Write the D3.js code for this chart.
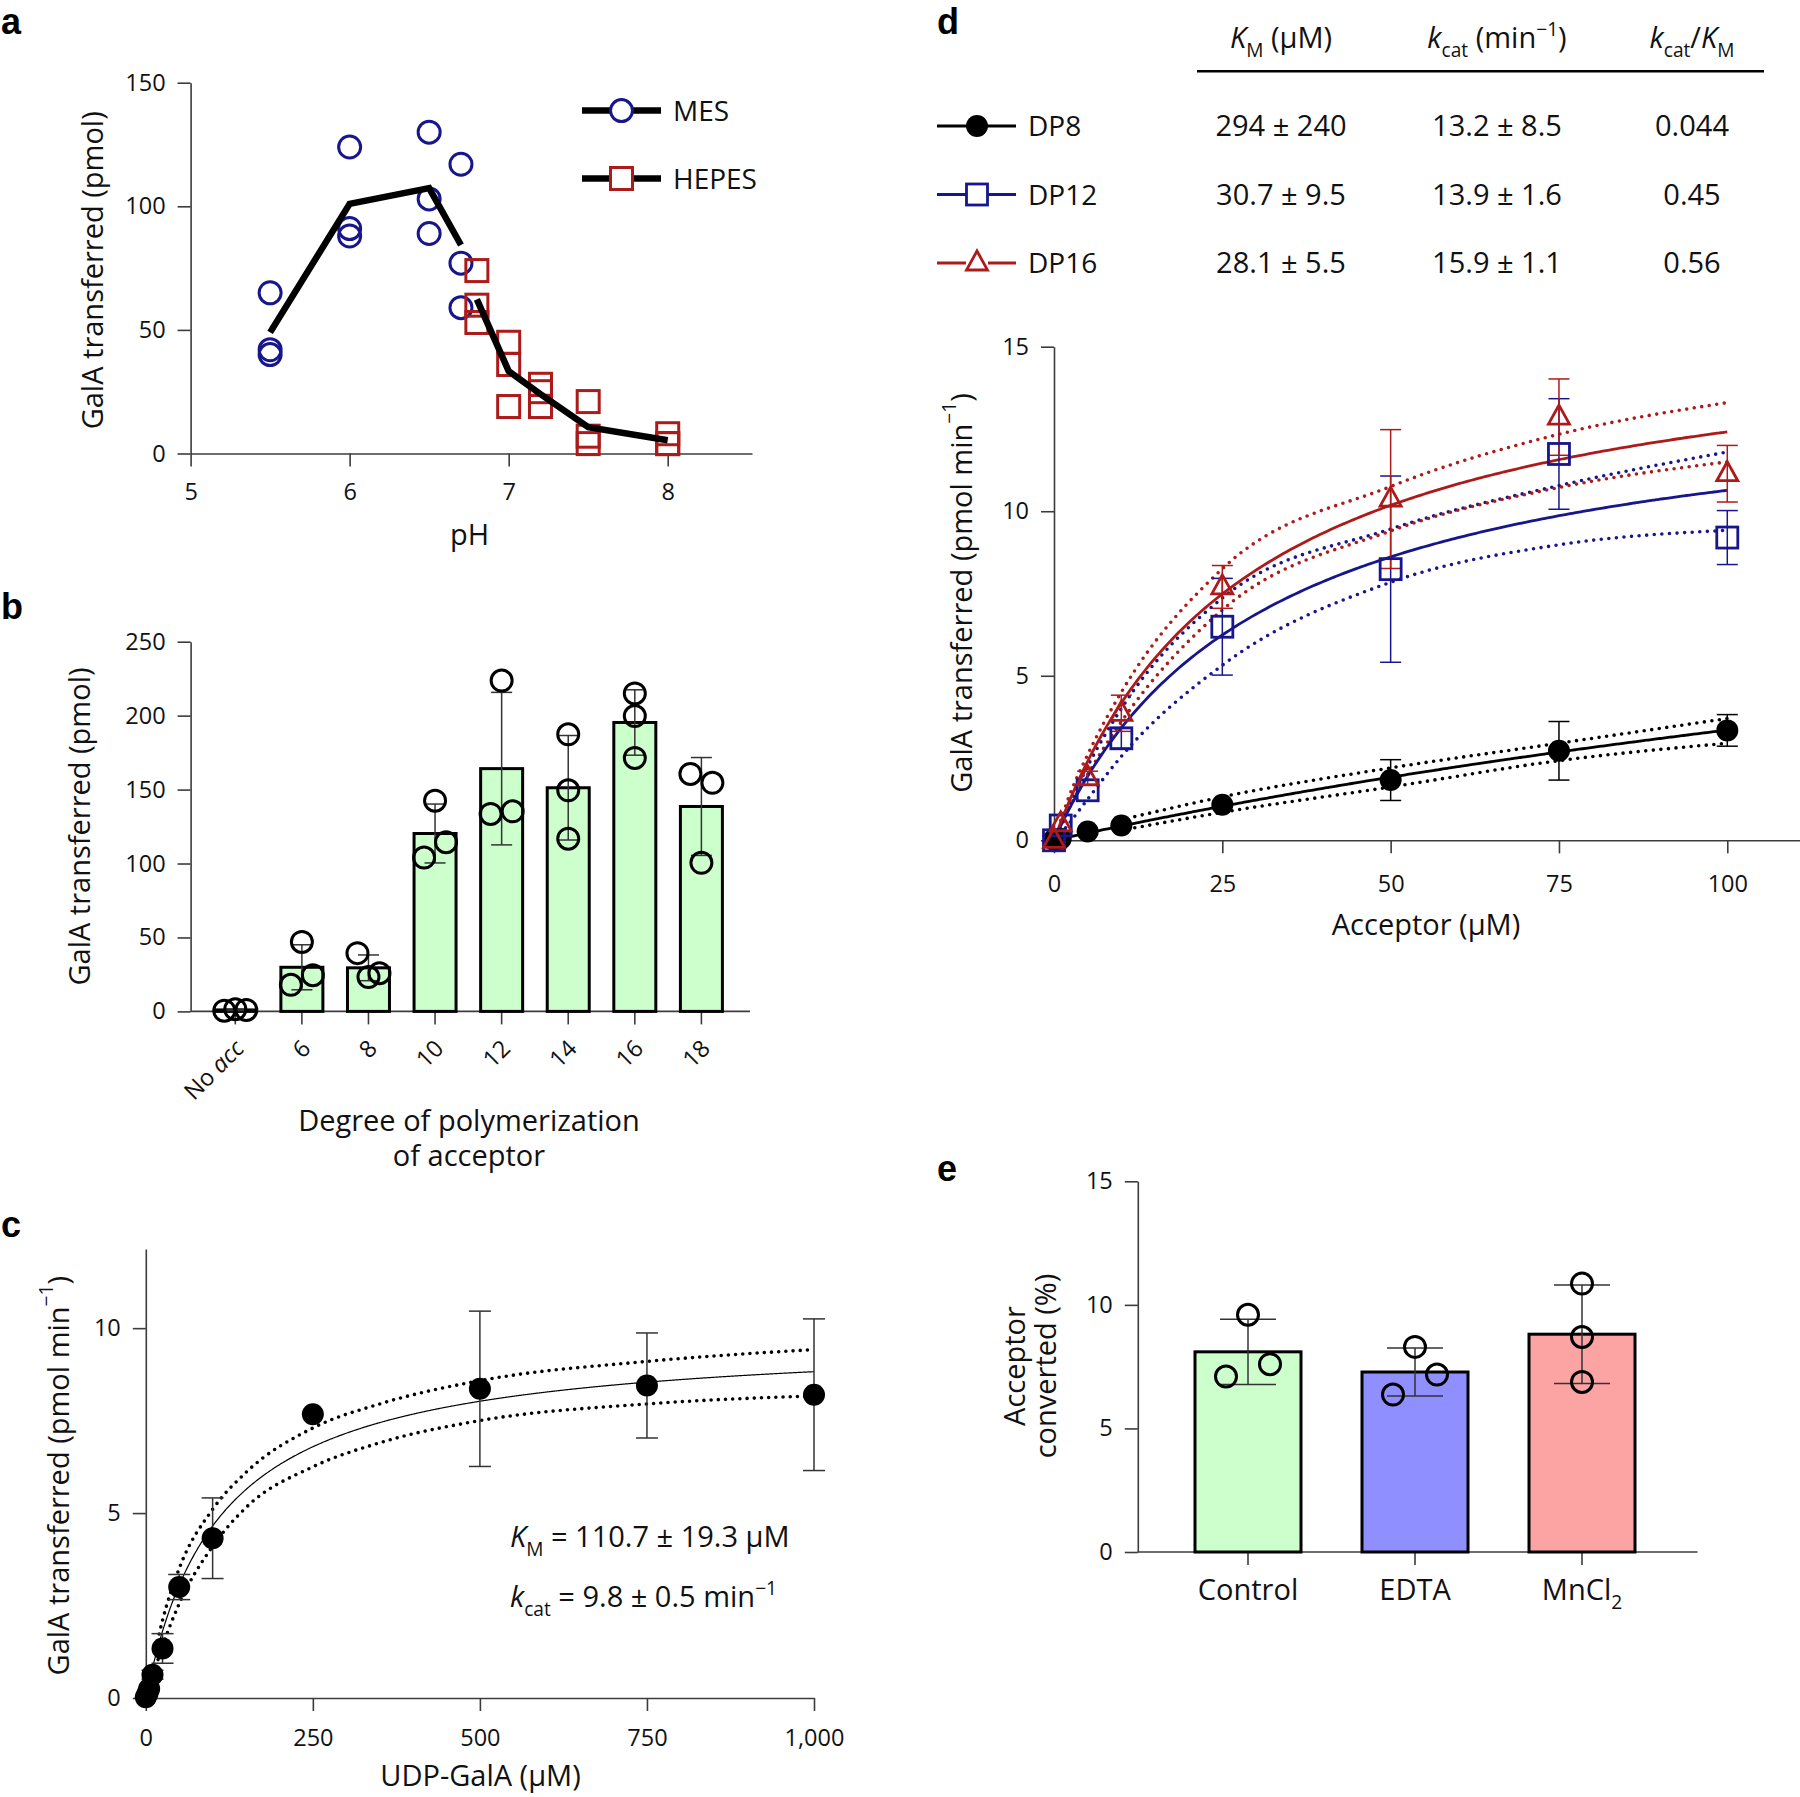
<!DOCTYPE html>
<html><head><meta charset="utf-8">
<script src="https://cdn.jsdelivr.net/npm/d3@7"></script>
<style>
body{margin:0;background:#fff;}
svg{display:block;font-family:"Open Sans",sans-serif;}
</style></head><body>
<svg id="fig" width="1800" height="1797"></svg>
<script>
// ---------------- Panel a: pH profile ----------------
const mesPH = [5.5, 6, 6.5, 6.7];
const mesReps = [[65, 42, 40], [124, 91, 88], [130, 103, 89], [117, 77, 59]];
const hepesPH = [6.8, 7, 7.2, 7.5, 8];
const hepesReps = [[74, 60, 53], [45, 36, 19], [28, 25, 19], [21, 7, 4], [8, 4, 4]];
const phTicks = [5, 6, 7, 8];
const aYTicks = [0, 50, 100, 150];

// ---------------- Panel b: acceptor DP ----------------
const dpCats = ["No acc", "6", "8", "10", "12", "14", "16", "18"];
const dpReps = [[0.5, 1.5, 1], [47, 18, 24.5], [39.4, 23.2, 25.8], [142.5, 104, 114.4],
                [223.7, 133.5, 135.3], [187.4, 149.5, 116.8], [215, 199.7, 171.4], [160.6, 154.6, 100.5]];
const bYTicks = [0, 50, 100, 150, 200, 250];

// ---------------- Panel c: UDP-GalA kinetics ----------------
const udpConc = [0, 2.5, 5, 10, 25, 50, 100, 250, 500, 750, 1000];
const udpRate = [0.02, 0.12, 0.25, 0.63, 1.34, 3.0, 4.32, 7.67, 8.36, 8.45, 8.2];
const udpSD   = [0, 0, 0, 0.12, 0.4, 0.34, 1.09, 0, 2.1, 1.42, 2.05];
const udpBandX = [15, 25, 50, 100, 150, 250, 350, 500, 750, 1000];
const udpBandUpper = [1.35, 2.1, 3.5, 5.1, 6.1, 7.3, 7.95, 8.58, 9.1, 9.42];
const udpBandLower = [0.85, 1.4, 2.55, 4.1, 5.15, 6.25, 6.9, 7.5, 7.95, 8.17];
const udpKm = 110.7, udpKmErr = 19.3, udpKcat = 9.8, udpKcatErr = 0.5;
const cXTicks = [0, 250, 500, 750, 1000];
const cYTicks = [0, 5, 10];

// ---------------- Panel d: acceptor kinetics ----------------
const dSeries = ["DP8", "DP12", "DP16"];
const kmVals = [294, 30.7, 28.1];
const kmErrs = [240, 9.5, 5.5];
const kcatVals = [13.2, 13.9, 15.9];
const kcatErrs = [8.5, 1.6, 1.1];
const effVals = [0.044, 0.45, 0.56];
const accConc = [0, 1, 5, 10, 25, 50, 75, 100];
const dp8Rate  = [0.02, 0.05, 0.27, 0.45, 1.08, 1.83, 2.72, 3.34];
const dp8SD    = [0, 0, 0, 0, 0, 0.62, 0.89, 0.48];
const dp12Rate = [0, 0.45, 1.52, 3.1, 6.49, 8.24, 11.74, 9.2];
const dp12SD   = [0, 0, 0, 0.3, 1.47, 2.83, 1.68, 0.82];
const dp16Rate = [0, 0.5, 1.9, 3.86, 7.7, 10.37, 12.86, 11.14];
const dp16SD   = [0, 0, 0.2, 0.55, 0.65, 2.11, 1.16, 0.86];
const dBandX   = [1, 2, 5, 10, 25, 50, 75, 100];
const dp12Upper = [0.5, 0.95, 2.25, 4.0, 7.36, 9.46, 10.78, 11.8];
const dp12Lower = [0.2, 0.45, 1.25, 2.55, 5.32, 7.84, 8.98, 9.42];
const dp16Upper = [0.6, 1.2, 2.6, 4.5, 8.25, 10.75, 12.34, 13.3];
const dp16Lower = [0.35, 0.85, 2.0, 3.6, 7.0, 9.4, 10.72, 11.5];
const dp8BandX  = [12, 25, 50, 75, 100];
const dp8Upper  = [0.72, 1.32, 2.2, 2.95, 3.7];
const dp8Lower  = [0.38, 0.85, 1.62, 2.42, 2.95];
const dXTicks = [0, 25, 50, 75, 100];
const dYTicks = [0, 5, 10, 15];

// ---------------- Panel e: metal dependence ----------------
const eCats = ["Control", "EDTA", "MnCl2"];
const eReps = [[9.6, 7.1, 7.6], [8.3, 6.37, 7.18], [10.86, 8.7, 6.88]];
const eYTicks = [0, 5, 10, 15];

// =====================================================
const svg = d3.select("#fig");
const AX = "#3c3c3c", TXT = "#111";
const NAVY = "#17168c", RED = "#ad1a1a";
const FS_TICK = 23.5, FS_TITLE = 29;

function finish(g){
  g.attr("font-family", null).attr("font-size", null).attr("fill", null);
  g.select(".domain").attr("stroke", AX).attr("stroke-width", 1.6);
  g.selectAll(".tick line").attr("stroke", AX).attr("stroke-width", 1.6);
  g.selectAll(".tick text").attr("fill", TXT).attr("font-size", FS_TICK);
}
function yAxis(scale, x, ticks){
  const g = svg.append("g").attr("transform", `translate(${x},0)`)
    .call(d3.axisLeft(scale).tickValues(ticks).tickSize(13).tickSizeOuter(0).tickPadding(12).tickFormat(d3.format("d")));
  finish(g); return g;
}
function xAxis(scale, y, ticks, fmt, pad){
  const g = svg.append("g").attr("transform", `translate(0,${y})`)
    .call(d3.axisBottom(scale).tickValues(ticks).tickSize(13).tickSizeOuter(0).tickPadding(pad).tickFormat(fmt));
  finish(g); return g;
}
function rich(t, parts, fs){
  let shift = 0;
  parts.forEach(p => {
    const ts = t.append("tspan").text(p.t);
    const target = p.sub ? fs*0.3 : p.sup ? -fs*0.4 : 0;
    const dy = target - shift; shift = target;
    if (dy !== 0) ts.attr("dy", dy);
    if (p.sub || p.sup) ts.attr("font-size", fs*0.66);
    if (p.it) ts.attr("font-style", "italic");
  });
  return t;
}
function title(x, y, parts, rot, fs){
  fs = fs || FS_TITLE;
  const t = svg.append("text").attr("font-size", fs).attr("fill", TXT).attr("text-anchor", "middle");
  if (rot) t.attr("transform", `translate(${x},${y}) rotate(-90)`).attr("dominant-baseline", "central");
  else t.attr("x", x).attr("y", y);
  return rich(t, typeof parts === "string" ? [{t: parts}] : parts, fs);
}
function letter(x, y, s){
  svg.append("text").attr("x", x).attr("y", y).text(s)
    .attr("font-family", "Liberation Sans, Arial, sans-serif").attr("font-weight", "bold")
    .attr("font-size", 36).attr("fill", "#000");
}
function dodge(vals, yScale, thr, d){
  const n = vals.length, px = vals.map(v => yScale(v));
  const parent = d3.range(n);
  const find = i => parent[i] === i ? i : (parent[i] = find(parent[i]));
  for (let i = 0; i < n; i++) for (let j = i+1; j < n; j++)
    if (Math.abs(px[i]-px[j]) < thr) parent[find(i)] = find(j);
  const off = new Array(n).fill(0);
  for (const [, idx] of d3.group(d3.range(n), find)) {
    const m = idx.length;
    idx.forEach((k, t) => { off[k] = m === 1 ? 0 : (t - (m-1)/2) * (2*d/(m-1)); });
  }
  return off;
}
function errBar(g, x, y0, y1, hw, color, w){
  g.append("line").attr("x1", x).attr("x2", x).attr("y1", y0).attr("y2", y1).attr("stroke", color).attr("stroke-width", w);
  [y0, y1].forEach(yy => g.append("line").attr("x1", x-hw).attr("x2", x+hw).attr("y1", yy).attr("y2", yy)
    .attr("stroke", color).attr("stroke-width", w));
}
const mm = (V, K) => s => V*s/(K+s);

// ================= Panel a =================
letter(1, 34, "a");
const ax = d3.scaleLinear().domain([5, 8.53]).range([190.6, 752]);
const ay = d3.scaleLinear().domain([0, 150]).range([453.5, 82.7]);
xAxis(ax, 453.5, phTicks, d3.format("d"), 17);
yAxis(ay, 190.6, aYTicks);
const aG = svg.append("g");
function sq(g, x, y, s, c){
  g.append("rect").attr("x", x-s/2).attr("y", y-s/2).attr("width", s).attr("height", s)
    .attr("fill", "none").attr("stroke", c).attr("stroke-width", 3);
}
mesPH.forEach((p, i) => mesReps[i].forEach(v =>
  aG.append("circle").attr("cx", ax(p)).attr("cy", ay(v)).attr("r", 11).attr("fill", "none").attr("stroke", NAVY).attr("stroke-width", 3)));
hepesPH.forEach((p, i) => hepesReps[i].forEach(v => sq(aG, ax(p), ay(v), 22, RED)));
const aLine = d3.line().x(d => ax(d[0])).y(d => ay(d[1]));
[[mesPH, mesReps], [hepesPH, hepesReps]].forEach(([ph, reps]) => {
  aG.append("path").attr("d", aLine(ph.map((p, i) => [p, d3.mean(reps[i])])))
    .attr("fill", "none").attr("stroke", "#000").attr("stroke-width", 6.5);
});
// legend
[["MES", 110.6], ["HEPES", 178.5]].forEach(([name, ly], k) => {
  aG.append("line").attr("x1", 582).attr("x2", 661).attr("y1", ly).attr("y2", ly).attr("stroke", "#000").attr("stroke-width", 6.5);
  if (k === 0) aG.append("circle").attr("cx", 621.5).attr("cy", ly).attr("r", 11).attr("fill", "#fff").attr("stroke", NAVY).attr("stroke-width", 3);
  else { aG.append("rect").attr("x", 621.5-11).attr("y", ly-11).attr("width", 22).attr("height", 22).attr("fill", "#fff"); sq(aG, 621.5, ly, 22, RED); }
  aG.append("text").attr("x", 673).attr("y", ly+10).attr("font-size", 28).attr("fill", TXT).text(name);
});
title(469.5, 545, "pH");
title(90.8, 270.3, "GalA transferred (pmol)", true);

// ================= Panel b =================
letter(1, 619, "b");
const by = d3.scaleLinear().domain([0, 250]).range([1011.4, 641.7]);
const bx = d3.scalePoint().domain(dpCats).range([235.3, 701.4]);
yAxis(by, 190.6, bYTicks);
const bG = svg.append("g");
bG.append("line").attr("x1", 190.6).attr("x2", 750).attr("y1", by(0)).attr("y2", by(0)).attr("stroke", AX).attr("stroke-width", 1.6);
dpCats.forEach(c => bG.append("line").attr("x1", bx(c)).attr("x2", bx(c)).attr("y1", by(0)).attr("y2", by(0)+13).attr("stroke", AX).attr("stroke-width", 1.6));
dpCats.forEach((c, i) => {
  const m = d3.mean(dpReps[i]);
  bG.append("rect").attr("x", bx(c)-21).attr("width", 42).attr("y", by(m)).attr("height", by(0)-by(m))
    .attr("fill", "#ccffcc").attr("stroke", "#000").attr("stroke-width", 3);
});
dpCats.forEach((c, i) => {
  const m = d3.mean(dpReps[i]), sd = d3.deviation(dpReps[i]);
  errBar(bG, bx(c), by(m+sd), by(m-sd), 10.5, "#333", 1.5);
});
dpCats.forEach((c, i) => {
  const off = dodge(dpReps[i], by, 21, 11);
  dpReps[i].forEach((v, k) => bG.append("circle").attr("cx", bx(c)+off[k]).attr("cy", by(v)).attr("r", 10.5)
    .attr("fill", "none").attr("stroke", "#000").attr("stroke-width", 3));
});
dpCats.forEach(c => {
  const t = bG.append("text").attr("transform", `translate(${bx(c)+10},1050) rotate(-45)`)
    .attr("text-anchor", "end").attr("font-size", FS_TICK).attr("fill", TXT);
  if (c === "No acc") rich(t, [{t: "No "}, {t: "acc", it: true}], FS_TICK); else t.text(c);
});
{
  const t = svg.append("text").attr("font-size", FS_TITLE).attr("fill", TXT).attr("text-anchor", "middle");
  t.append("tspan").attr("x", 469).attr("y", 1131).text("Degree of polymerization");
  t.append("tspan").attr("x", 469).attr("dy", 35).text("of acceptor");
}
title(77.7, 826.5, "GalA transferred (pmol)", true);

// ================= Panel c =================
letter(1, 1237, "c");
const cx = d3.scaleLinear().domain([0, 1000]).range([145.8, 814]);
const cy = d3.scaleLinear().domain([0, 12.14]).range([1698, 1249]);
xAxis(cx, 1698, cXTicks, d3.format(","), 18);
yAxis(cy, 145.8, cYTicks);
const cG = svg.append("g");
const cLine = d3.line().x(d => cx(d[0])).y(d => cy(d[1])).curve(d3.curveMonotoneX);
[udpBandUpper, udpBandLower].forEach(b => cG.append("path").attr("d", cLine(udpBandX.map((x, i) => [x, b[i]])))
  .attr("fill", "none").attr("stroke", "#000").attr("stroke-width", 3.6).attr("stroke-linecap", "round").attr("stroke-dasharray", "0 7.2"));
const cFit = mm(udpKcat, udpKm);
cG.append("path").attr("d", cLine(d3.range(0, 1000.01, 2).map(s => [s, cFit(s)])))
  .attr("fill", "none").attr("stroke", "#000").attr("stroke-width", 1.2);
udpConc.forEach((s, i) => { if (udpSD[i] > 0) errBar(cG, cx(s), cy(udpRate[i]+udpSD[i]), cy(udpRate[i]-udpSD[i]), 11, "#333", 1.5); });
udpConc.forEach((s, i) => cG.append("circle").attr("cx", cx(s)).attr("cy", cy(udpRate[i])).attr("r", 11).attr("fill", "#000"));
{
  const t1 = svg.append("text").attr("x", 510).attr("y", 1547).attr("font-size", 29).attr("fill", TXT);
  rich(t1, [{t: "K", it: true}, {t: "M", sub: true}, {t: " = " + udpKm + " ± " + udpKmErr + " μM"}], 29);
  const t2 = svg.append("text").attr("x", 510).attr("y", 1607).attr("font-size", 29).attr("fill", TXT);
  rich(t2, [{t: "k", it: true}, {t: "cat", sub: true}, {t: " = " + udpKcat + " ± " + udpKcatErr + " min"}, {t: "−1", sup: true}], 29);
}
title(480.5, 1786, "UDP-GalA (μM)");
title(57.4, 1475.7, [{t: "GalA transferred (pmol min"}, {t: "−1", sup: true}, {t: ")"}], true);

// ================= Panel d =================
letter(937, 34, "d");
// table
svg.append("line").attr("x1", 1197).attr("x2", 1764).attr("y1", 71.2).attr("y2", 71.2).attr("stroke", "#000").attr("stroke-width", 2.5);
const colX = [1281, 1497, 1692];
rich(svg.append("text").attr("x", colX[0]).attr("y", 48).attr("text-anchor", "middle").attr("font-size", 29).attr("fill", TXT),
  [{t: "K", it: true}, {t: "M", sub: true}, {t: " (μM)"}], 29);
rich(svg.append("text").attr("x", colX[1]).attr("y", 48).attr("text-anchor", "middle").attr("font-size", 29).attr("fill", TXT),
  [{t: "k", it: true}, {t: "cat", sub: true}, {t: " (min"}, {t: "−1", sup: true}, {t: ")"}], 29);
rich(svg.append("text").attr("x", colX[2]).attr("y", 48).attr("text-anchor", "middle").attr("font-size", 29).attr("fill", TXT),
  [{t: "k", it: true}, {t: "cat", sub: true}, {t: "/"}, {t: "K", it: true}, {t: "M", sub: true}], 29);
const dColors = ["#000", NAVY, RED];
function dMarker(g, k, x, y){
  if (k === 0) g.append("circle").attr("cx", x).attr("cy", y).attr("r", 11).attr("fill", "#000");
  else if (k === 1) g.append("rect").attr("x", x-10.5).attr("y", y-10.5).attr("width", 21).attr("height", 21)
    .attr("fill", "none").attr("stroke", NAVY).attr("stroke-width", 2.8);
  else g.append("path").attr("d", `M${x},${y-12}L${x+10.5},${y+7}L${x-10.5},${y+7}Z`)
    .attr("fill", "none").attr("stroke", RED).attr("stroke-width", 2.8).attr("stroke-linejoin", "miter");
}
const dLegG = svg.append("g");
dSeries.forEach((name, k) => {
  const ry = 126 + k*68.5;
  dLegG.append("line").attr("x1", 937).attr("x2", 1016).attr("y1", ry).attr("y2", ry).attr("stroke", dColors[k]).attr("stroke-width", 2.8);
  if (k > 0) dLegG.append("rect").attr("x", 966).attr("y", ry-11).attr("width", 22).attr("height", 20).attr("fill", "#fff");
  dMarker(dLegG, k, 977, ry);
  dLegG.append("text").attr("x", 1028).attr("y", ry+10).attr("font-size", 28).attr("fill", TXT).text(name);
  [kmVals[k] + " ± " + kmErrs[k], kcatVals[k] + " ± " + kcatErrs[k], String(effVals[k])].forEach((s, j) =>
    dLegG.append("text").attr("x", colX[j]).attr("y", ry+10).attr("text-anchor", "middle").attr("font-size", 29).attr("fill", TXT).text(s));
});
// plot
const dx = d3.scaleLinear().domain([0, 110.8]).range([1054, 1800]);
const dy = d3.scaleLinear().domain([0, 15]).range([840.3, 346.7]);
xAxis(dx, 840.3, dXTicks, d3.format("d"), 22);
yAxis(dy, 1054, dYTicks);
const dG = svg.append("g");
const dLine = d3.line().x(d => dx(d[0])).y(d => dy(d[1])).curve(d3.curveMonotoneX);
const bands = [[dp8BandX, dp8Upper, dp8Lower], [dBandX, dp12Upper, dp12Lower], [dBandX, dp16Upper, dp16Lower]];
bands.forEach(([bxv, up, lo], k) => [up, lo].forEach(b =>
  dG.append("path").attr("d", dLine(bxv.map((x, i) => [x, b[i]]))).attr("fill", "none").attr("stroke", dColors[k])
    .attr("stroke-width", 3.6).attr("stroke-linecap", "round").attr("stroke-dasharray", "0 7.6")));
dSeries.forEach((n, k) => {
  const f = mm(kcatVals[k], kmVals[k]);
  dG.append("path").attr("d", dLine(d3.range(0, 100.01, 0.5).map(s => [s, f(s)])))
    .attr("fill", "none").attr("stroke", dColors[k]).attr("stroke-width", 2.8);
});
const dRates = [dp8Rate, dp12Rate, dp16Rate], dSDs = [dp8SD, dp12SD, dp16SD];
dSeries.forEach((n, k) => accConc.forEach((s, i) => {
  if (dSDs[k][i] > 0) errBar(dG, dx(s), dy(dRates[k][i]+dSDs[k][i]), dy(dRates[k][i]-dSDs[k][i]), 10.5, dColors[k], 1.5);
}));
dSeries.forEach((n, k) => accConc.forEach((s, i) => dMarker(dG, k, dx(s), dy(dRates[k][i]))));
title(1426, 935, "Acceptor (μM)");
title(960.3, 593, [{t: "GalA transferred (pmol min"}, {t: "−1", sup: true}, {t: ")"}], true);

// ================= Panel e =================
letter(937, 1181, "e");
const ey = d3.scaleLinear().domain([0, 15]).range([1552, 1181.3]);
const ex = d3.scalePoint().domain(eCats).range([1248, 1582]);
yAxis(ey, 1137.8, eYTicks);
const eG = svg.append("g");
eG.append("line").attr("x1", 1137.8).attr("x2", 1697.5).attr("y1", ey(0)).attr("y2", ey(0)).attr("stroke", AX).attr("stroke-width", 1.6);
eCats.forEach(c => eG.append("line").attr("x1", ex(c)).attr("x2", ex(c)).attr("y1", ey(0)).attr("y2", ey(0)+13).attr("stroke", AX).attr("stroke-width", 1.6));
const eFill = ["#ccffcc", "#8f8fff", "#fca3a3"];
eCats.forEach((c, i) => {
  const m = d3.mean(eReps[i]);
  eG.append("rect").attr("x", ex(c)-53).attr("width", 106).attr("y", ey(m)).attr("height", ey(0)-ey(m))
    .attr("fill", eFill[i]).attr("stroke", "#000").attr("stroke-width", 3);
});
eCats.forEach((c, i) => {
  const m = d3.mean(eReps[i]), sd = d3.deviation(eReps[i]);
  errBar(eG, ex(c), ey(m+sd), ey(m-sd), 28, "#333", 1.5);
});
eCats.forEach((c, i) => {
  const off = dodge(eReps[i], ey, 22, 22);
  eReps[i].forEach((v, k) => eG.append("circle").attr("cx", ex(c)+off[k]).attr("cy", ey(v)).attr("r", 10.5)
    .attr("fill", "none").attr("stroke", "#000").attr("stroke-width", 3));
});
eCats.forEach(c => {
  const t = eG.append("text").attr("x", ex(c)).attr("y", 1600).attr("text-anchor", "middle").attr("font-size", FS_TITLE).attr("fill", TXT);
  if (c === "MnCl2") rich(t, [{t: "MnCl"}, {t: "2", sub: true}], FS_TITLE); else t.text(c);
});
title(1012.7, 1366, "Acceptor", true);
title(1044, 1366, "converted (%)", true);
</script>
</body></html>
